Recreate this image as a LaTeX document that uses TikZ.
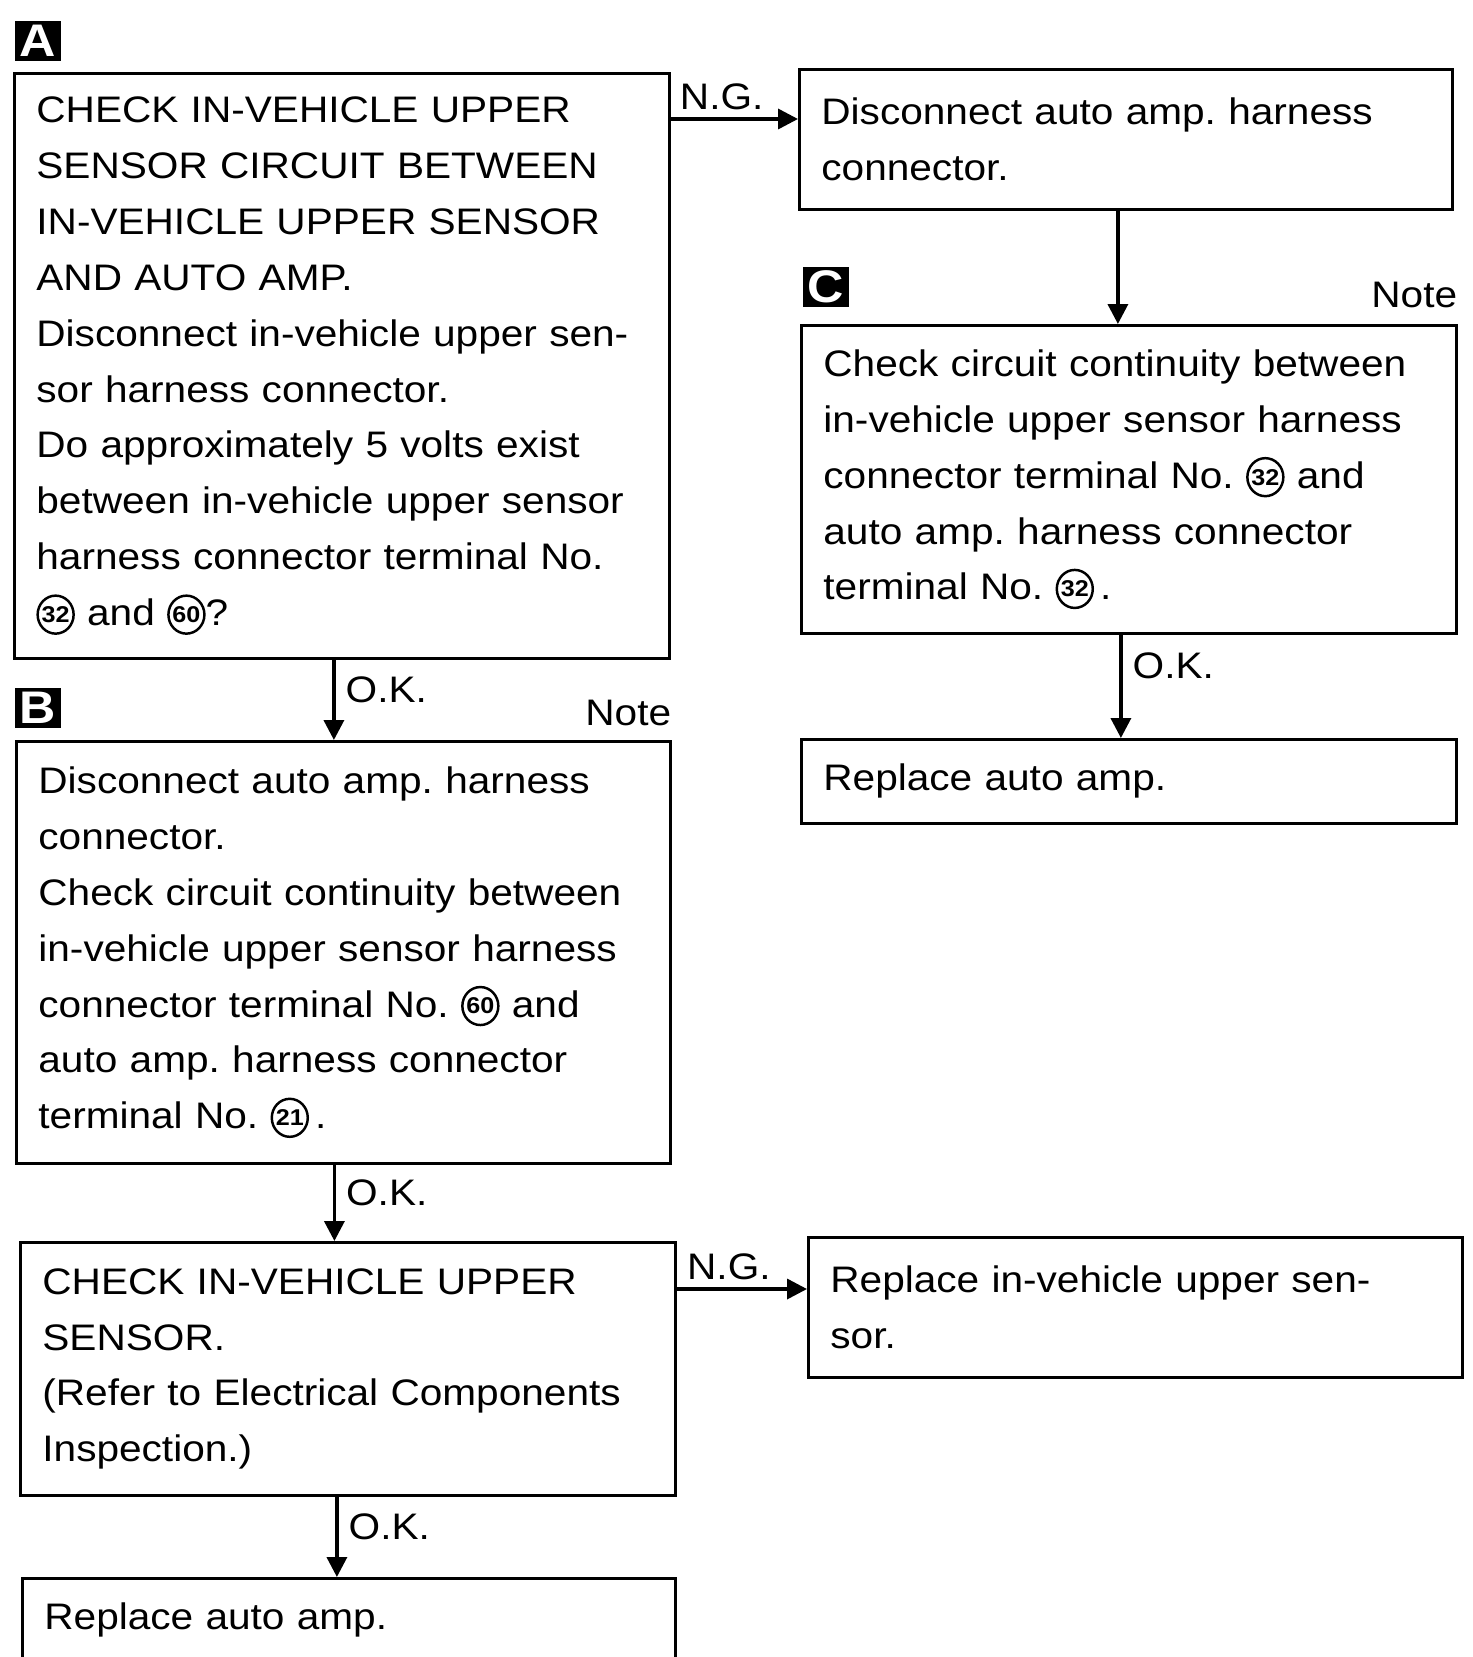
\documentclass[tikz,border=0pt]{standalone}
\usepackage{fontspec}
\setmainfont[FakeStretch=1.1]{Liberation Sans}
\usetikzlibrary{arrows.meta}
\frenchspacing

\tikzset{
  chkbox/.style={draw, line width=0.8pt, anchor=north west, align=left,
    inner xsep=0.22cm, inner ysep=0pt, font=\fontsize{10.5}{15.9}\selectfont},
  tagbox/.style={fill=black, text=white, minimum width=0.46cm, minimum height=0.40cm,
    inner sep=0pt, font=\fontsize{13}{13}\selectfont\bfseries},
  flow/.style={line width=1pt, -{Triangle[width=0.2cm,length=0.2cm]}},
  lbl/.style={inner sep=0pt, font=\fontsize{10.5}{12}\selectfont},
}

% circled terminal number
\newcommand\term[1]{\tikz[baseline=-0.11cm]\draw[line width=0.7pt] (0,0) ellipse (0.18cm and 0.19cm)
  node[inner sep=0pt, minimum size=0pt, text width={}, anchor=center,
    font=\fontsize{6.5}{6.5}\selectfont\bfseries] {#1};}

\begin{document}
\begin{tikzpicture}
    \path[use as bounding box, fill=white] (0,0) rectangle (14.73,-16.57);

    \node[tagbox] (tagA) at (0.38,-0.41) {A};
    \node[chkbox, text width=6.11cm, minimum height=5.85cm] (A) at (0.13,-0.72)
        {CHECK IN-VEHICLE UPPER\\SENSOR CIRCUIT BETWEEN\\IN-VEHICLE UPPER SENSOR\\AND AUTO AMP.\\
         Disconnect in-vehicle upper sen-\\sor harness connector.\\Do approximately 5 volts exist\\
         between in-vehicle upper sensor\\harness connector terminal No.\\\term{32} and \term{60}?};

    \node[chkbox, text width=6.09cm, minimum height=1.40cm] (D) at (7.98,-0.68)
        {Disconnect auto amp. harness\\connector.};

    \node[tagbox] (tagC) at (8.26,-2.87) {C};
    \node[chkbox, text width=6.11cm, minimum height=3.08cm] (C) at (8.00,-3.24)
        {Check circuit continuity between\\in-vehicle upper sensor harness\\
         connector terminal No. \term{32} and\\auto amp. harness connector\\terminal No. \term{32}\,.};
    \node[lbl, anchor=base east] (noteC) at ([yshift=0.17cm]C.north east) {Note};

    \node[chkbox, text width=6.11cm, minimum height=0.84cm] (R) at (8.00,-7.38)
        {Replace auto amp.};

    \node[tagbox] (tagB) at (0.38,-7.08) {B};
    \node[chkbox, text width=6.10cm, minimum height=4.22cm] (B) at (0.15,-7.40)
        {Disconnect auto amp. harness\\connector.\\Check circuit continuity between\\
         in-vehicle upper sensor harness\\connector terminal No. \term{60} and\\
         auto amp. harness connector\\terminal No. \term{21}\,.};
    \node[lbl, anchor=base east] (noteB) at ([yshift=0.15cm]B.north east) {Note};

    \node[chkbox, text width=6.11cm, minimum height=2.53cm] (E) at (0.19,-12.41)
        {CHECK IN-VEHICLE UPPER\\SENSOR.\\(Refer to Electrical Components\\Inspection.)};

    \node[chkbox, text width=6.10cm, minimum height=1.40cm] (F) at (8.07,-12.36)
        {Replace in-vehicle upper sen-\\sor.};

    \node[chkbox, text width=6.09cm, minimum height=0.84cm] (G) at (0.21,-15.77)
        {Replace auto amp.};

    % connectors
    \coordinate (ngA) at ([yshift=-0.47cm]A.north east);
    \coordinate (ngE) at ([yshift=-0.48cm]E.north east);
    \coordinate (okA) at ([xshift=-0.08cm]A.south);
    \coordinate (okB) at ([xshift=-0.09cm]B.south);
    \coordinate (okC) at ([xshift=-0.08cm]C.south);
    \coordinate (okD) at ([xshift=-0.08cm]D.south);
    \coordinate (okE) at ([xshift=-0.11cm]E.south);
    \draw[flow] (ngA) -- (ngA -| D.west) node[lbl, pos=0.4, above=2pt] {N.G.};
    \draw[flow] (okD) -- (okD |- C.north);
    \draw[flow] (okC) -- (okC |- R.north) node[lbl, pos=0.3, right=0.1cm] {O.K.};
    \draw[flow] (okA) -- (okA |- B.north) node[lbl, pos=0.38, right=0.1cm] {O.K.};
    \draw[flow] (okB) -- (okB |- E.north) node[lbl, pos=0.37, right=0.1cm] {O.K.};
    \draw[flow] (ngE) -- (ngE -| F.west) node[lbl, pos=0.4, above=2pt] {N.G.};
    \draw[flow] (okE) -- (okE |- G.north) node[lbl, pos=0.37, right=0.1cm] {O.K.};
\end{tikzpicture}
\end{document}
